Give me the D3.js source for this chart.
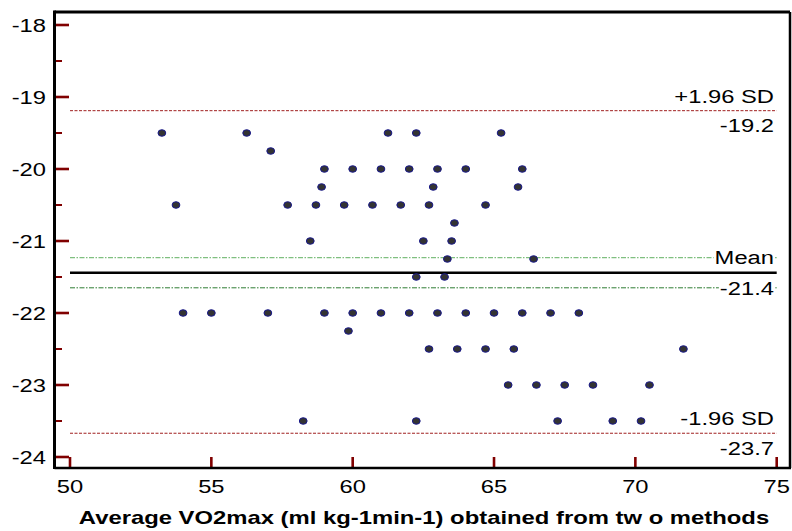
<!DOCTYPE html>
<html><head><meta charset="utf-8">
<script src="https://cdn.jsdelivr.net/npm/d3@7/dist/d3.min.js"></script>
<style>body{margin:0;background:#fff}svg{display:block}text{font-family:"Liberation Sans",Arial,sans-serif}</style>
</head><body>
<svg id="c" width="792" height="531"></svg>
<script>
// Data: [average, difference]
const pts = [
 [53.25,-19.5],[56.25,-19.5],[61.25,-19.5],[62.25,-19.5],[65.25,-19.5],
 [57.1,-19.75],
 [59,-20],[60,-20],[61,-20],[62,-20],[63,-20],[64,-20],[66,-20],
 [58.9,-20.25],[62.85,-20.25],[65.85,-20.25],
 [53.75,-20.5],[57.7,-20.5],[58.7,-20.5],[59.7,-20.5],[60.7,-20.5],[61.7,-20.5],[62.7,-20.5],[64.7,-20.5],
 [63.6,-20.75],
 [58.5,-21],[62.5,-21],[63.5,-21],
 [63.35,-21.25],[66.4,-21.25],
 [62.25,-21.5],[63.25,-21.5],
 [54,-22],[55,-22],[57,-22],[59,-22],[60,-22],[61,-22],[62,-22],[63,-22],[64,-22],[65,-22],[66,-22],[67,-22],[68,-22],
 [59.85,-22.25],
 [62.7,-22.5],[63.7,-22.5],[64.7,-22.5],[65.7,-22.5],[71.7,-22.5],
 [65.5,-23],[66.5,-23],[67.5,-23],[68.5,-23],[70.5,-23],
 [58.25,-23.5],[62.25,-23.5],[67.25,-23.5],[69.2,-23.5],[70.2,-23.5]
];
const xTicks = [50,55,60,65,70,75];
const yTicks = [-18,-19,-20,-21,-22,-23,-24];
const yMinor = [-18.5,-19.5,-20.5,-21.5,-22.5,-23.5];
const meanVal = -21.44, upperSD = -19.19, lowerSD = -23.67;
const ciUpper = -21.23, ciLower = -21.65;
const xTitle = "Average VO2max (ml kg-1min-1) obtained from tw o methods";

const svg = d3.select("#c");
const x = d3.scaleLinear().domain([50,75]).range([70,776.7]);
const y = d3.scaleLinear().domain([-18,-24]).range([25,457]);
const L = 54.5, R = 790, T = 12, B = 468;
const x0 = x(50), x1 = x(75);
const red = "#800000";

function txt(parent, px, py, s, anchor, size, weight, sx){
  return parent.append("text")
    .attr("transform",`translate(${px},${py}) scale(${sx||1.32},1)`)
    .attr("text-anchor",anchor).attr("font-size",size)
    .attr("font-weight",weight||"normal").attr("fill","#000").text(s);
}

// reference lines
svg.append("line").attr("x1",x0).attr("x2",x1).attr("y1",y(upperSD)).attr("y2",y(upperSD))
  .attr("stroke","#a02020").attr("stroke-width",1).attr("stroke-dasharray","3,1.5");
svg.append("line").attr("x1",x0).attr("x2",x1).attr("y1",y(lowerSD)).attr("y2",y(lowerSD))
  .attr("stroke","#a02020").attr("stroke-width",1).attr("stroke-dasharray","3,1.5");
svg.append("line").attr("x1",x0).attr("x2",x1).attr("y1",y(ciUpper)).attr("y2",y(ciUpper))
  .attr("stroke","#7fbf7f").attr("stroke-width",1.3).attr("stroke-dasharray","5,1.5,1.5,1.5");
svg.append("line").attr("x1",x0).attr("x2",x1).attr("y1",y(ciLower)).attr("y2",y(ciLower))
  .attr("stroke","#2e7d32").attr("stroke-width",1).attr("stroke-dasharray","5,1.5,1.5,1.5");
svg.append("line").attr("x1",x0).attr("x2",x1).attr("y1",y(meanVal)).attr("y2",y(meanVal))
  .attr("stroke","#000").attr("stroke-width",2.5);

// labels
function lab(t, yy){
  const g = svg.append("g");
  txt(g, 774, yy, t, "end", 18);
  const bb = g.node().getBBox();
  g.insert("rect","text").attr("x",bb.x-1).attr("y",bb.y+3).attr("width",bb.width+2).attr("height",bb.height-6).attr("fill","#fff");
}
lab("+1.96 SD", y(upperSD)-8);
lab(upperSD.toFixed(1), y(upperSD)+21.5);
lab("Mean", y(meanVal)-8.5);
lab(meanVal.toFixed(1), y(meanVal)+22.5);
lab("-1.96 SD", y(lowerSD)-8);
lab(lowerSD.toFixed(1), y(lowerSD)+21.5);

// points
svg.append("g").selectAll("ellipse").data(pts).join("ellipse")
  .attr("cx",d=>x(d[0])).attr("cy",d=>y(d[1])).attr("rx",3.9).attr("ry",3.3)
  .attr("fill","#333").attr("stroke","#1a1a8c").attr("stroke-width",1);

// ticks
svg.append("g").selectAll("line").data(yTicks).join("line")
  .attr("x1",L).attr("x2",69).attr("y1",d=>y(d)).attr("y2",d=>y(d))
  .attr("stroke",red).attr("stroke-width",2.6);
svg.append("g").selectAll("line").data(yMinor).join("line")
  .attr("x1",L).attr("x2",62).attr("y1",d=>y(d)).attr("y2",d=>y(d))
  .attr("stroke",red).attr("stroke-width",2);
svg.append("g").selectAll("line").data(xTicks).join("line")
  .attr("x1",d=>x(d)).attr("x2",d=>x(d)).attr("y1",B).attr("y2",457)
  .attr("stroke",red).attr("stroke-width",2.6);

// frame
svg.append("line").attr("x1",L).attr("x2",L).attr("y1",T-1.5).attr("y2",B+1).attr("stroke","#000").attr("stroke-width",3);
svg.append("line").attr("x1",L).attr("x2",R).attr("y1",T).attr("y2",T).attr("stroke","#000").attr("stroke-width",3);
svg.append("line").attr("x1",R).attr("x2",R).attr("y1",T).attr("y2",B).attr("stroke","#000").attr("stroke-width",2.5);
svg.append("line").attr("x1",L).attr("x2",R+1).attr("y1",B).attr("y2",B).attr("stroke","#000").attr("stroke-width",2.5);

// tick labels
const gy = svg.append("g");
yTicks.forEach(d => txt(gy, 46, y(d)+6.5, d, "end", 18));
const gx = svg.append("g");
xTicks.forEach(d => txt(gx, x(d), 493, d, "middle", 18));

// x title
txt(svg, 424, 523.5, xTitle, "middle", 19, "bold", 1.255);
</script>
</body></html>
